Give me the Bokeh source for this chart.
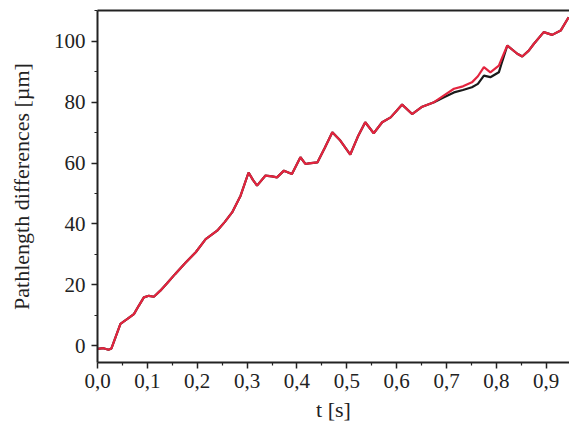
from bokeh.plotting import figure
from bokeh.models import FixedTicker, LinearAxis, Range1d
from bokeh.embed import file_html
from bokeh.resources import INLINE

# ---- data ----
t = [0.000, 0.012, 0.022, 0.028, 0.037, 0.046, 0.060, 0.073, 0.083, 0.093,
     0.103, 0.113, 0.126, 0.140, 0.156, 0.176, 0.197, 0.217, 0.240, 0.255,
     0.270, 0.287, 0.303, 0.312, 0.320, 0.337, 0.350, 0.360, 0.374, 0.390,
     0.407, 0.417, 0.424, 0.441, 0.456, 0.471, 0.487, 0.507, 0.522, 0.537,
     0.554, 0.571, 0.588, 0.600, 0.611, 0.631, 0.650, 0.675, 0.695, 0.715,
     0.733, 0.751, 0.763, 0.775, 0.788, 0.805, 0.812, 0.822, 0.842, 0.852,
     0.865, 0.875, 0.895, 0.912, 0.929, 0.945]

red = [-1.0, -0.8, -1.3, -0.9, 3.2, 7.2, 8.8, 10.4, 13.2, 15.9,
       16.4, 16.1, 18.1, 20.6, 23.6, 27.2, 30.7, 35.0, 37.8, 40.6,
       43.8, 49.3, 56.9, 54.4, 52.6, 55.9, 55.6, 55.3, 57.5, 56.4,
       61.9, 59.7, 59.9, 60.2, 65.0, 70.1, 67.4, 62.8, 68.6, 73.4,
       69.8, 73.4, 75.0, 77.2, 79.2, 76.1, 78.4, 80.0, 82.2, 84.4,
       85.2, 86.5, 88.5, 91.5, 89.8, 92.0, 94.8, 98.6, 95.9, 95.0,
       96.9, 99.1, 103.0, 102.1, 103.5, 107.9]

black = [-1.0, -0.8, -1.3, -0.9, 3.2, 7.2, 8.8, 10.4, 13.2, 15.9,
         16.4, 16.1, 18.1, 20.6, 23.6, 27.2, 30.7, 35.0, 37.8, 40.6,
         43.8, 49.3, 56.9, 54.4, 52.6, 55.9, 55.6, 55.3, 57.5, 56.4,
         61.9, 59.7, 59.9, 60.2, 65.0, 70.1, 67.4, 62.8, 68.6, 73.4,
         69.8, 73.4, 75.0, 77.2, 79.2, 76.1, 78.4, 80.0, 81.6, 83.2,
         84.0, 84.9, 86.0, 88.7, 88.2, 89.8, 93.5, 98.6, 95.9, 95.0,
         96.9, 99.1, 103.0, 102.1, 103.5, 107.9]

x_ticks = [0.0, 0.1, 0.2, 0.3, 0.4, 0.5, 0.6, 0.7, 0.8, 0.9]
x_tick_labels = ["0,0", "0,1", "0,2", "0,3", "0,4", "0,5", "0,6", "0,7", "0,8", "0,9"]
y_ticks = [0, 20, 40, 60, 80, 100]
y_tick_labels = ["0", "20", "40", "60", "80", "100"]

FONT = "Liberation Serif"

p = figure(width=569, height=431, output_backend="svg", toolbar_location=None,
           x_range=Range1d(0.0, 0.9467), y_range=Range1d(-5.5, 110.1),
           min_border_left=97, min_border_right=0, min_border_top=10,
           min_border_bottom=69)

p.line(t, black, color="#1a1a1a", line_width=2.2)
p.line(t, red, color="#e3243e", line_width=2.2)

p.xgrid.visible = False
p.ygrid.visible = False
p.outline_line_color = None
p.background_fill_color = "white"
p.border_fill_color = "white"

x_minor = [v + 0.05 for v in x_ticks] + [-0.05]
y_minor = [v + 10 for v in y_ticks] + [-10]

p.xaxis.ticker = FixedTicker(ticks=x_ticks, minor_ticks=x_minor)
p.xaxis.major_label_overrides = dict(zip(x_ticks, x_tick_labels))
p.yaxis.ticker = FixedTicker(ticks=y_ticks, minor_ticks=y_minor)
p.yaxis.major_label_overrides = dict(zip(y_ticks, y_tick_labels))

for ax in (p.xaxis[0], p.yaxis[0]):
    ax.axis_line_color = "#222222"
    ax.axis_line_width = 2
    ax.major_tick_line_color = "#222222"
    ax.minor_tick_line_color = "#222222"
    ax.major_tick_line_width = 1.5
    ax.minor_tick_line_width = 1.2
    ax.major_tick_in = 0
    ax.major_tick_out = 6
    ax.minor_tick_in = 0
    ax.minor_tick_out = 3
    ax.major_label_text_font = FONT
    ax.major_label_text_font_size = "21px"
    ax.major_label_text_color = "#222222"
    ax.axis_label_text_font = FONT
    ax.axis_label_text_font_size = "22px"
    ax.axis_label_text_font_style = "normal"
    ax.axis_label_text_color = "#222222"

p.xaxis.axis_label = "t [s]"
p.yaxis.axis_label = "Pathlength differences [\u00b5m]"
p.xaxis.major_label_standoff = 5
p.yaxis.major_label_standoff = 6
p.xaxis.axis_label_standoff = 6
p.yaxis.axis_label_standoff = 17

top = LinearAxis(ticker=FixedTicker(ticks=[]), major_label_text_font_size="0px",
                 major_tick_out=0, major_tick_in=0, minor_tick_out=0, minor_tick_in=0,
                 major_label_standoff=0, axis_line_width=2, axis_line_color="#222222")
p.add_layout(top, "above")

open("out.html", "w").write(file_html(p, INLINE))
